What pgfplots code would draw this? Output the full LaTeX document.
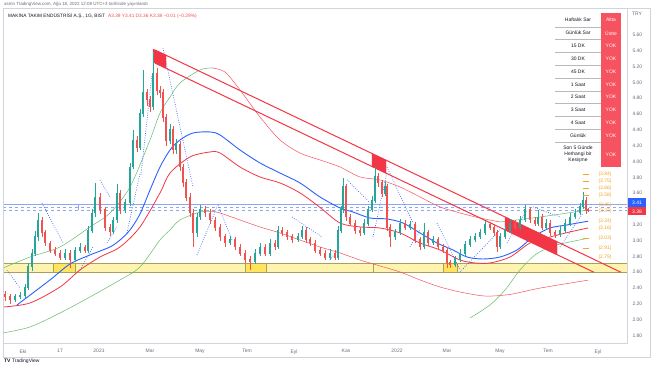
\documentclass[border=0pt]{standalone}
\usepackage{fontspec}
\setmainfont{Liberation Sans}
\usepackage{pgfplots}
\usepackage{pgfplotstable}
\pgfplotsset{compat=1.18}
\definecolor{upc}{HTML}{26A69A}
\definecolor{dnc}{HTML}{EF5350}
\definecolor{tvblue}{HTML}{2962FF}
\definecolor{tvred}{HTML}{F23645}
\definecolor{thinred}{HTML}{F7525F}
\definecolor{thingreen}{HTML}{66BB6A}
\definecolor{band}{HTML}{FFF3B0}
\definecolor{bandedge}{HTML}{A9A05A}
\definecolor{bandbox}{HTML}{FFE45C}
\definecolor{lbl}{HTML}{F5A623}
\definecolor{txt}{HTML}{131722}
\definecolor{gtxt}{HTML}{6A6D78}
\definecolor{cell}{HTML}{F7525F}
\definecolor{sep}{HTML}{D1D4DC}
\definecolor{hblue}{HTML}{8FA6F5}

\pgfplotstableread{
x o h l c
5 2.32 2.36 2.24 2.29
10 2.29 2.32 2.20 2.25
15 2.25 2.32 2.22 2.29
20 2.29 2.35 2.26 2.31
25 2.31 2.45 2.28 2.41
28 2.41 2.72 2.38 2.67
32 2.67 2.90 2.62 2.84
35 2.84 3.12 2.80 3.05
38 3.05 3.35 3.00 3.26
42 3.26 3.30 3.05 3.10
45 3.10 3.14 2.93 2.97
50 2.97 3.00 2.84 2.88
55 2.88 2.92 2.80 2.84
60 2.84 2.88 2.75 2.79
65 2.79 2.90 2.76 2.84
70 2.84 2.88 2.65 2.76
75 2.76 2.92 2.73 2.88
80 2.88 2.97 2.85 2.92
85 2.92 2.95 2.84 2.88
88 2.88 3.18 2.85 3.13
92 3.13 3.40 3.10 3.35
95 3.35 3.73 3.30 3.55
100 3.55 3.60 3.34 3.39
105 3.39 3.43 3.12 3.17
110 3.17 3.21 3.06 3.11
113 3.11 3.30 3.08 3.26
117 3.26 3.72 3.22 3.60
120 3.60 3.64 3.34 3.39
125 3.39 3.53 3.35 3.48
130 3.48 3.98 3.44 3.93
133 3.93 4.40 3.90 4.27
137 4.27 4.32 4.12 4.18
140 4.18 4.66 4.14 4.61
143 4.61 5.16 4.56 4.87
147 4.87 4.92 4.70 4.78
150 4.78 4.83 4.62 4.69
153 4.69 5.39 4.65 5.12
157 5.12 5.18 4.84 4.90
160 4.90 4.96 4.80 4.87
163 4.87 4.92 4.50 4.56
166 4.56 4.60 4.20 4.27
170 4.27 4.48 4.22 4.40
173 4.40 4.45 4.10 4.15
176 4.15 4.28 4.10 4.22
180 4.22 4.26 3.88 3.93
183 3.93 3.97 3.68 3.73
186 3.73 3.78 3.50 3.55
190 3.55 3.60 3.30 3.35
193 3.35 3.40 2.92 3.10
197 3.10 3.35 3.05 3.30
200 3.30 3.45 3.26 3.39
205 3.39 3.44 3.30 3.35
210 3.35 3.40 3.21 3.26
215 3.26 3.30 3.12 3.17
220 3.17 3.21 3.00 3.05
225 3.05 3.09 2.92 2.97
230 2.97 3.06 2.94 3.01
235 3.01 3.05 2.88 2.92
240 2.92 2.96 2.80 2.84
245 2.84 2.88 2.72 2.76
250 2.76 2.80 2.63 2.74
255 2.74 2.89 2.70 2.84
260 2.84 2.97 2.80 2.92
265 2.92 2.96 2.80 2.84
270 2.84 3.02 2.81 2.97
275 2.97 3.01 2.88 2.92
278 2.92 3.18 2.89 3.13
282 3.13 3.17 3.06 3.10
287 3.10 3.14 3.01 3.05
292 3.05 3.09 2.97 3.01
298 3.01 3.10 2.98 3.05
302 3.05 3.18 3.02 3.13
306 3.13 3.17 2.97 3.01
310 3.01 3.05 2.93 2.97
315 2.97 3.01 2.84 2.88
320 2.88 2.92 2.80 2.84
325 2.84 2.88 2.75 2.79
330 2.79 2.89 2.76 2.84
335 2.84 2.88 2.75 2.79
338 2.79 3.18 2.76 3.13
341 3.13 3.44 3.10 3.39
343 3.39 3.79 3.35 3.68
346 3.68 3.72 3.25 3.30
350 3.30 3.34 3.18 3.22
355 3.22 3.26 3.09 3.13
360 3.13 3.17 3.06 3.10
364 3.10 3.27 3.07 3.22
368 3.22 3.44 3.19 3.39
372 3.39 3.56 3.36 3.51
375 3.51 3.93 3.48 3.81
378 3.81 3.86 3.68 3.73
382 3.73 3.77 3.55 3.60
385 3.60 3.74 3.57 3.68
387 3.68 3.72 3.12 3.17
390 3.17 3.21 2.92 3.05
395 3.05 3.15 3.01 3.10
400 3.10 3.27 3.07 3.22
405 3.22 3.26 3.13 3.17
410 3.17 3.25 3.14 3.20
415 3.20 3.24 2.97 3.01
420 3.01 3.05 2.88 2.92
424 2.92 3.22 2.89 3.10
428 3.10 3.14 2.93 2.97
433 2.97 3.06 2.94 3.01
438 3.01 3.05 2.88 2.92
443 2.92 2.96 2.84 2.88
447 2.88 2.92 2.65 2.72
450 2.72 2.76 2.66 2.70
455 2.70 2.80 2.67 2.76
460 2.76 2.89 2.73 2.84
465 2.84 3.00 2.81 2.95
470 2.95 3.06 2.92 3.01
475 3.01 3.10 2.98 3.05
480 3.05 3.15 3.02 3.10
485 3.10 3.25 3.07 3.20
490 3.20 3.24 3.13 3.17
494 3.17 3.21 3.06 3.10
497 3.10 3.14 2.86 2.92
500 2.92 3.10 2.89 3.05
505 3.05 3.18 3.02 3.13
510 3.13 3.27 3.10 3.22
515 3.22 3.26 3.13 3.17
520 3.17 3.31 3.14 3.26
525 3.26 3.45 3.23 3.39
530 3.39 3.43 3.22 3.26
535 3.26 3.30 3.18 3.22
538 3.22 3.39 3.19 3.30
542 3.30 3.34 3.13 3.17
546 3.17 3.27 3.14 3.22
550 3.22 3.26 3.06 3.10
555 3.10 3.14 3.03 3.07
560 3.07 3.18 3.04 3.13
565 3.13 3.27 3.10 3.22
570 3.22 3.35 3.19 3.30
575 3.30 3.40 3.27 3.35
580 3.35 3.48 3.32 3.43
583 3.43 3.61 3.40 3.51
586 3.51 3.55 3.34 3.39
588 3.39 3.41 3.36 3.38
}\candles

\begin{document}
\begin{tikzpicture}[font=\fontsize{5}{6}\selectfont]
\useasboundingbox (0,0) rectangle (654bp,366bp);
\fill[white] (0,0) rectangle (654bp,366bp);
\begin{axis}[
  scale only axis, width=624bp, height=335bp,
  at={(3bp,23bp)}, anchor=south west,
  xmin=3, xmax=627, ymin=1.706, ymax=5.941,
  axis line style={draw=sep, line width=0.4bp},
  xtick={23,60,99,150,200,247,294,346,397,447,500,548,598},
  xticklabels={Eki,17,2021,Mar,May,Tem,Eyl,Kas,2022,Mar,May,Tem,Eyl},
  ytick={1.8,2,2.2,2.4,2.6,2.8,3,3.2,3.6,3.8,4,4.2,4.4,4.6,4.8,5,5.2,5.4,5.6},
  yticklabel pos=right,
  /pgf/number format/assume math mode=true,
  yticklabel style={/pgf/number format/fixed, /pgf/number format/fixed zerofill, /pgf/number format/precision=2, anchor=west, xshift=2bp},
  xticklabel style={yshift=-3bp},
  tick label style={font=\fontsize{5}{6}\selectfont, text=gtxt},
  major tick length=0pt,
  every tick/.style={draw=none},
]
% support band
\addplot[fill=band, draw=none] coordinates {(3,2.604) (627,2.604) (627,2.718) (3,2.718)} -- cycle;
\addplot[fill=bandbox, draw=bandedge, line width=0.4bp] coordinates {(53,2.604) (75,2.604) (75,2.718) (53,2.718)} -- cycle;
\addplot[fill=bandbox, draw=bandedge, line width=0.4bp] coordinates {(245,2.604) (266,2.604) (266,2.718) (245,2.718)} -- cycle;
\addplot[fill=bandbox, draw=bandedge, line width=0.4bp] coordinates {(443,2.604) (457,2.604) (457,2.718) (443,2.718)} -- cycle;
\addplot[bandedge, line width=0.7bp] coordinates {(3,2.718) (627,2.718)};
\addplot[bandedge, line width=0.7bp] coordinates {(3,2.604) (627,2.604)};
\addplot[bandedge, line width=0.6bp] coordinates {(373,2.604) (373,2.718)};
% horizontal blue levels
\addplot[hblue, line width=0.5bp] coordinates {(3,3.46) (627,3.46)};
\addplot[hblue, line width=0.5bp, dashed] coordinates {(3,3.42) (627,3.42)};
\addplot[hblue, line width=0.5bp, dashed] coordinates {(3,3.385) (627,3.385)};
\addplot[hblue, line width=0.5bp] coordinates {(78,3.385) (78,3.46)};
% thin envelopes
\addplot[thingreen, line width=0.5bp, smooth] coordinates {(3,2.654) (30,2.793) (60,2.920) (90,3.173) (110,3.350) (130,3.678) (150,4.273) (160,4.614) (170,4.816) (180,4.993) (200,5.158) (212,5.183)};
\addplot[thinred, line width=0.5bp, smooth] coordinates {(212,5.183) (225,5.132) (240,4.905) (260,4.563) (280,4.273) (300,4.108) (320,4.020) (340,3.931) (360,3.805) (380,3.767) (400,3.678) (420,3.552) (440,3.426) (460,3.350) (480,3.286) (500,3.236)};
\addplot[thingreen, line width=0.5bp, smooth] coordinates {(500,3.236) (540,3.299) (588,3.388)};
\addplot[thingreen, line width=0.5bp, smooth] coordinates {(3,1.833) (30,1.909) (60,2.085) (90,2.288) (120,2.503) (140,2.667) (160,3.008) (170,3.135) (180,3.261) (200,3.362) (212,3.370)};
\addplot[thinred, line width=0.5bp, smooth] coordinates {(212,3.370) (220,3.350) (240,3.261) (260,3.173) (280,3.097) (300,3.008) (320,2.920) (340,2.844) (360,2.755) (380,2.680) (400,2.604) (420,2.503) (440,2.414) (460,2.351) (485,2.300) (510,2.320) (540,2.400) (588,2.500)};
\addplot[thingreen, line width=0.5bp, smooth] coordinates {(470,2.022) (490,2.187) (505,2.376) (520,2.629) (535,2.819) (550,2.920) (565,2.970) (588,3.030)};
% moving averages
\addplot[tvred, line width=0.8bp, smooth] coordinates {(3,2.161) (30,2.212) (60,2.414) (80,2.629) (100,2.793) (120,2.920) (140,3.173) (160,3.603) (170,3.855) (190,4.058) (210,4.121) (220,4.108) (240,3.931) (260,3.805) (280,3.729) (300,3.603) (320,3.420) (340,3.223) (360,3.173) (380,3.160) (400,3.097) (420,2.970) (440,2.882) (460,2.755) (475,2.718) (490,2.718) (510,2.793) (530,2.970) (550,3.046) (570,3.110) (588,3.160)};
\addplot[tvblue, line width=0.9bp, smooth] coordinates {(17,2.187) (50,2.503) (70,2.705) (90,2.819) (110,2.920) (120,3.008) (130,3.135) (140,3.337) (150,3.640) (160,3.931) (170,4.146) (180,4.273) (193,4.361) (210,4.374) (220,4.336) (240,4.146) (260,3.982) (280,3.855) (300,3.729) (320,3.552) (340,3.413) (353,3.362) (370,3.286) (387,3.274) (403,3.223) (420,3.097) (437,2.970) (453,2.882) (467,2.793) (483,2.768) (500,2.793) (517,2.882) (533,3.046) (550,3.160) (567,3.198) (583,3.235) (588,3.245)};
% parabolic SAR segments
\pgfplotsset{sar/.style={tvblue, line width=0.7bp, dash pattern=on 0.7bp off 1.6bp}}
\addplot[sar] coordinates {(7,2.629) (20,2.402)};
\addplot[sar] coordinates {(42,3.476) (63,2.970)};
\addplot[sar] coordinates {(80,2.629) (93,2.920)};
\addplot[sar] coordinates {(100,3.767) (110,3.552)};
\addplot[sar] coordinates {(107,2.970) (117,3.173)};
\addplot[sar] coordinates {(127,3.097) (140,3.855)};
\addplot[sar] coordinates {(141,3.83) (152,5.094)};
\addplot[sar] coordinates {(163,5.436) (193,3.678)};
\addplot[sar] coordinates {(197,2.819) (217,3.425)};
\addplot[sar] coordinates {(218,3.451) (232,3.008)};
\addplot[sar] coordinates {(292,3.299) (322,3.046)};
\addplot[sar] coordinates {(330,2.755) (340,2.920)};
\addplot[sar] coordinates {(347,3.767) (370,3.476)};
\addplot[sar] coordinates {(373,3.046) (387,3.868)};
\addplot[sar] coordinates {(387,3.931) (413,3.223)};
\addplot[sar] coordinates {(410,2.920) (420,3.135)};
\addplot[sar] coordinates {(437,3.223) (460,2.629)};
\addplot[sar] coordinates {(460,2.604) (500,3.135)};
\addplot[sar] coordinates {(507,2.970) (527,3.388)};
\addplot[sar] coordinates {(533,3.426) (560,3.299)};
\addplot[sar] coordinates {(560,2.920) (583,3.350)};
% descending channel
\addplot[tvred, line width=1bp] coordinates {(155,5.41) (621,2.60)};
\addplot[tvred, line width=1bp] coordinates {(155,5.245) (594,2.60)};
\addplot[fill=tvred, draw=tvred, line width=0.3bp] coordinates {(153,5.422) (166,5.344) (166,5.179) (153,5.257)} -- cycle;
\addplot[fill=tvred, draw=tvred, line width=0.3bp] coordinates {(372,4.101) (386,4.017) (386,3.852) (372,3.936)} -- cycle;
\addplot[fill=tvred, draw=tvred, line width=0.3bp] coordinates {(505,3.300) (557,2.986) (557,2.821) (505,3.135)} -- cycle;
% candles: wicks and bodies
\addplot[draw=none, mark=none, x filter/.expression={\thisrow{c}>=\thisrow{o} ? x : nan},
  error bars/.cd, y dir=both, y explicit, error mark=none, error bar style={upc, line width=0.5bp}]
  table[x=x, y expr={(\thisrow{h}+\thisrow{l})/2}, y error expr={(\thisrow{h}-\thisrow{l})/2}] {\candles};
\addplot[draw=none, mark=none, x filter/.expression={\thisrow{c}<\thisrow{o} ? x : nan},
  error bars/.cd, y dir=both, y explicit, error mark=none, error bar style={dnc, line width=0.5bp}]
  table[x=x, y expr={(\thisrow{h}+\thisrow{l})/2}, y error expr={(\thisrow{h}-\thisrow{l})/2}] {\candles};
\addplot[draw=none, mark=none, x filter/.expression={\thisrow{c}>=\thisrow{o} ? x : nan},
  error bars/.cd, y dir=both, y explicit, error mark=none, error bar style={upc, line width=1.8bp, line cap=butt}]
  table[x=x, y expr={(\thisrow{o}+\thisrow{c})/2}, y error expr={abs(\thisrow{c}-\thisrow{o})/2+0.005}] {\candles};
\addplot[draw=none, mark=none, x filter/.expression={\thisrow{c}<\thisrow{o} ? x : nan},
  error bars/.cd, y dir=both, y explicit, error mark=none, error bar style={dnc, line width=1.8bp, line cap=butt}]
  table[x=x, y expr={(\thisrow{o}+\thisrow{c})/2}, y error expr={abs(\thisrow{c}-\thisrow{o})/2+0.005}] {\candles};
% level labels
\addplot[only marks, mark=-, mark size=3bp, lbl, mark options={line width=0.5bp}] coordinates {(586,3.84) (586,3.75) (586,3.66) (586,3.58) (586,3.03) (586,2.91)};
\foreach \v in {3.84,3.75,3.66,3.58,3.45,3.37,3.24,3.16,3.03,2.91,2.79} {
  \edef\tmp{\noexpand\node[text=lbl, font=\noexpand\fontsize{5}{6}\noexpand\selectfont] at (axis cs:605,\v) {(\v)};}\tmp
}
\end{axis}
\begin{scope}[x=1bp, y=-1bp, shift={(0,366bp)}]
  \draw[sep, line width=0.4bp] (3,8) rectangle (650,357);
  \node[anchor=west, text=gtxt, font=\fontsize{4.5}{5}\selectfont, inner sep=0] at (4,4) {asmn TradingView.com, Ağu 18, 2022 12:08 UTC+3 tarihinde yayınlandı};
  \node[anchor=west, text=txt, font=\fontsize{4.8}{5}\selectfont, inner sep=0] at (8,16) {MAKİNA TAKIM ENDÜSTRİSİ A.Ş., 1G, BIST\hspace{3bp}\textcolor{dnc}{A3.39 Y3.41 D3.36 K3.38 −0.01 (−0.29\%)}};
  \node[text=gtxt] at (637,14) {TRY};
  % price badges
  \fill[tvblue] (628,198.5) rectangle (646,207.5);
  \node[white] at (637,203) {3.41};
  \fill[tvred] (628,207.5) rectangle (646,215.5);
  \node[white] at (637,211.5) {3.38};
  % table
  \fill[white] (555,13) rectangle (601,167);
  \fill[cell] (601,13) rectangle (621,167);
  \foreach \yy in {27,39,52,65,78,91,103,116,129,142} {\draw[gray!55, line width=0.4bp] (555,\yy) -- (601,\yy);}
  \foreach \yy/\a/\b in {20/Haftalık Sar/Altta, 33/Günlük Sar/Üstte, 45.5/15 DK/YOK, 58.5/30 DK/YOK, 71.5/45 DK/YOK, 84.5/1 Saat/YOK, 97/2 Saat/YOK, 109.5/3 Saat/YOK, 122.5/4 Saat/YOK, 135.5/Günlük/YOK} {
    \node[text=txt] at (578,\yy) {\a};
    \node[text=white] at (611,\yy) {\b};
  }
  \node[text=txt, align=center, font=\fontsize{5}{5.8}\selectfont] at (578,154.5) {Son 5 Günde\\Herhangi bir\\Kesişme};
  \node[text=white] at (611,154.5) {YOK};
  % logo
  \node[anchor=west, text=txt, font=\bfseries\fontsize{5}{6}\selectfont, inner sep=0] at (4,361) {TV\hspace{1.5bp}\mdseries TradingView};
\end{scope}
\end{tikzpicture}
\end{document}
